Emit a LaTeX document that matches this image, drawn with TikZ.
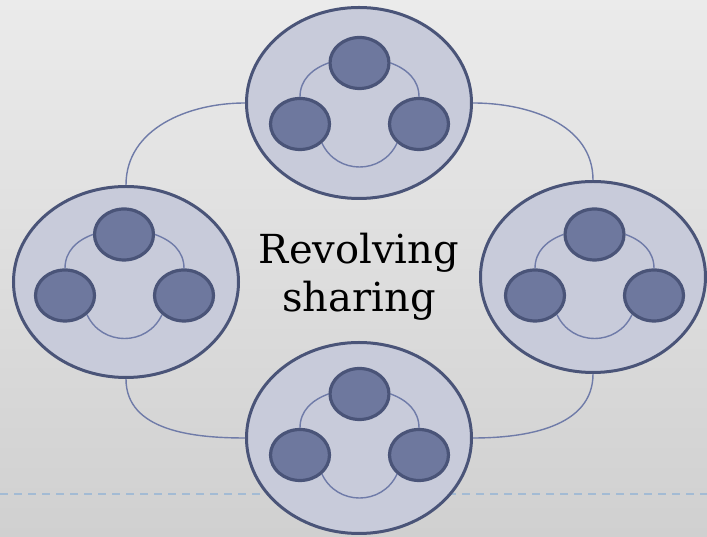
\documentclass[tikz,border=0pt]{standalone}
\usepackage{fontspec}
\newfontfamily\labelfont{DejaVu Serif}
\usetikzlibrary{shapes.geometric}
\definecolor{bgtop}{HTML}{EBEBEB}
\definecolor{bgbot}{HTML}{D0D0D0}
\definecolor{ringfill}{HTML}{C8CBDA}
\definecolor{rimline}{HTML}{4A5478}
\definecolor{podfill}{HTML}{6E789E}
\definecolor{linkline}{HTML}{6F7BA8}
\definecolor{guideline}{HTML}{A3BBD4}
\begin{document}
\begin{tikzpicture}[x=1pt, y=1pt,
  group/.style={ellipse, draw=rimline, fill=ringfill, line width=3pt, minimum width=225pt, minimum height=191pt, inner sep=0pt},
  pod/.style={ellipse, draw=rimline, fill=podfill, line width=3.2pt, minimum width=59pt, minimum height=51pt, inner sep=0pt},
  link/.style={draw=linkline, line width=1.4pt},
  guide/.style={draw=guideline, line width=2pt, dash pattern=on 8pt off 6pt}]
\useasboundingbox (0,0) rectangle (707,537);
\shade[top color=bgtop, bottom color=bgbot] (0,0) rectangle (707,537);
\draw[guide] (0,43) -- (707,43);
\node[group] (n) at (359,434) {};
\node[group] (w) at (126,255) {};
\node[group] (e) at (593,260) {};
\node[group] (s) at (359,99) {};
\draw[link] (n.west) to[out=180, in=90] (w.north);
\draw[link] (n.east) to[out=0, in=90] (e.north);
\draw[link] (w.south) to[out=-90, in=180] (s.west);
\draw[link] (e.south) to[out=-90, in=0] (s.east);
\node[pod] (n1) at (359.5,474) {};
\node[pod] (n2) at (300,413) {};
\node[pod] (n3) at (419,413) {};
\node[pod] (w1) at (124,302.5) {};
\node[pod] (w2) at (65,241.5) {};
\node[pod] (w3) at (184,241.5) {};
\node[pod] (e1) at (594.5,302.5) {};
\node[pod] (e2) at (535,241.5) {};
\node[pod] (e3) at (654,241.5) {};
\node[pod] (s1) at (359.5,143) {};
\node[pod] (s2) at (300,82) {};
\node[pod] (s3) at (419,82) {};
\draw[link] (n1.west) to[out=200, in=90] (n2.north);
\draw[link] (n1.east) to[out=-20, in=90] (n3.north);
\draw[link] (n2.south east) to[out=-65, in=-115, looseness=1.2] (n3.south west);
\draw[link] (w1.west) to[out=200, in=90] (w2.north);
\draw[link] (w1.east) to[out=-20, in=90] (w3.north);
\draw[link] (w2.south east) to[out=-65, in=-115, looseness=1.2] (w3.south west);
\draw[link] (e1.west) to[out=200, in=90] (e2.north);
\draw[link] (e1.east) to[out=-20, in=90] (e3.north);
\draw[link] (e2.south east) to[out=-65, in=-115, looseness=1.2] (e3.south west);
\draw[link] (s1.west) to[out=200, in=90] (s2.north);
\draw[link] (s1.east) to[out=-20, in=90] (s3.north);
\draw[link] (s2.south east) to[out=-65, in=-115, looseness=1.2] (s3.south west);
\node[align=center, inner sep=0pt, font=\labelfont\fontsize{40}{48}\selectfont] (c) at (359,260) {Revolving\\sharing};
\end{tikzpicture}
\end{document}
